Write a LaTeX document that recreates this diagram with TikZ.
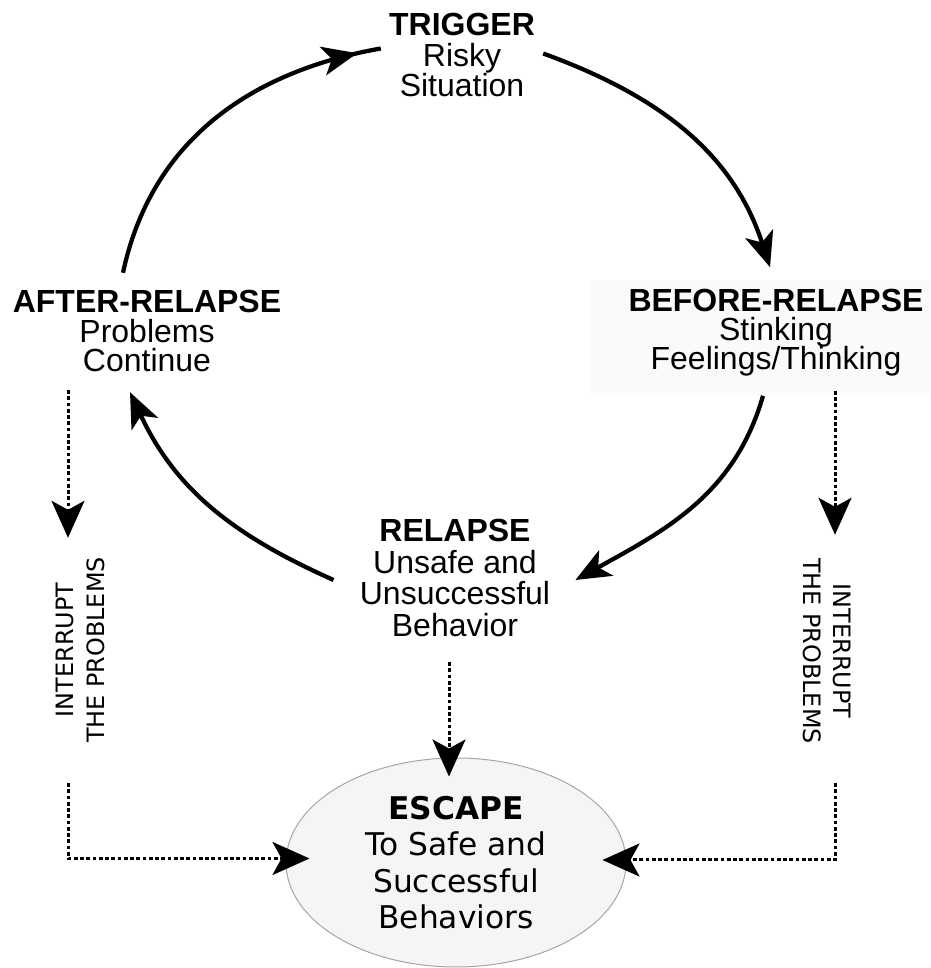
\documentclass[tikz,border=0pt]{standalone}
\usepackage{fontspec}
\setmainfont{Liberation Sans}
\newfontfamily\comicfont{DejaVu Sans}
\usetikzlibrary{arrows.meta,shapes.geometric,decorations.markings}
\newcommand\stagefont[1]{\fontsize{18.2pt}{#1}\selectfont\lineskiplimit=-20pt\relax}

\begin{document}
\begin{tikzpicture}[x=0.2mm,y=0.2mm]
\tikzstyle{stage}=[align=center, inner sep=0pt, font={\stagefont{17.6pt}}]
\tikzstyle{sidenote}=[align=center, inner sep=0pt, font={\comicfont\fontsize{13.6pt}{17.6pt}\selectfont}]
\tikzstyle{loopline}=[line width=0.85mm]
\tikzstyle{looparrow}=[loopline, -{Stealth[length=7mm,width=5.8mm,inset=1.8mm]}]
\tikzstyle{looptip}=[postaction={decorate}, decoration={markings, mark=at position -4.8mm with {\arrow{Stealth[length=7mm,width=5.8mm,inset=1.8mm]}}}]
\tikzstyle{dotline}=[line width=0.6mm, dash pattern=on 0.75mm off 0.5mm, -{Stealth[length=7.4mm,width=6.6mm,inset=1.8mm]}]
\useasboundingbox (0,0) rectangle (930,968);
\fill[black!2] (590,573) rectangle (930,688);
\draw (462,913) node (trig) [stage] {\textbf{TRIGGER}\\Risky\\Situation};
\draw (776,635) node (before) [stage, font={\stagefont{16.5pt}}] {\textbf{BEFORE-RELAPSE}\\Stinking\\Feelings/Thinking};
\draw (147,637) node (after) [stage, font={\stagefont{16.8pt}}] {\textbf{AFTER-RELAPSE}\\Problems\\Continue};
\draw (455,390) node (relapse) [stage, font={\stagefont{18pt}}] {\textbf{RELAPSE}\\Unsafe and\\Unsuccessful\\Behavior};
\draw (456,105.5) node (esc) [ellipse, draw=gray!70, fill=black!4, line width=0.2mm, minimum width=68mm, minimum height=41.8mm, inner sep=0pt, align=center, font={\comicfont\fontsize{17.8pt}{20.8pt}\selectfont}] {\textbf{ESCAPE}\\To Safe and\\Successful\\Behaviors};
\draw (80,318) node (intl) [sidenote, rotate=90] {INTERRUPT\\THE PROBLEMS};
\draw (827,317) node (intr) [sidenote, rotate=-90] {INTERRUPT\\THE PROBLEMS};
\draw[loopline, looptip] ([shift={(-24,17)}]after.north) to[out=78,in=190] ([shift={(-8,6.5)}]trig.west);
\draw[looparrow] ([shift={(8,1.5)}]trig.east) to[out=-20,in=108] ([shift={(-6,22)}]before.north);
\draw[looparrow] ([shift={(-13,-19)}]before.south) to[out=-106,in=29] ([shift={(25,-2)}]relapse.east);
\draw[looparrow] ([shift={(-26,-2)}]relapse.west) to[out=156,in=-65] ([shift={(-17,-20)}]after.south);
\draw[dotline] ([shift={(-79,-18)}]after.south) -- ([shift={(-12,19)}]intl.east);
\draw[dotline] ([shift={(59,-14)}]before.south) -- ([shift={(8,23)}]intr.west);
\draw[dotline] ([shift={(-6,-25)}]relapse.south) -- ([shift={(-7,-19)}]esc.north);
\draw[dotline] ([shift={(-12,-40)}]intl.west) |- ([shift={(24,4)}]esc.west);
\draw[dotline] ([shift={(8,-39)}]intr.east) |- ([shift={(-24,2.5)}]esc.east);
\end{tikzpicture}
\end{document}
